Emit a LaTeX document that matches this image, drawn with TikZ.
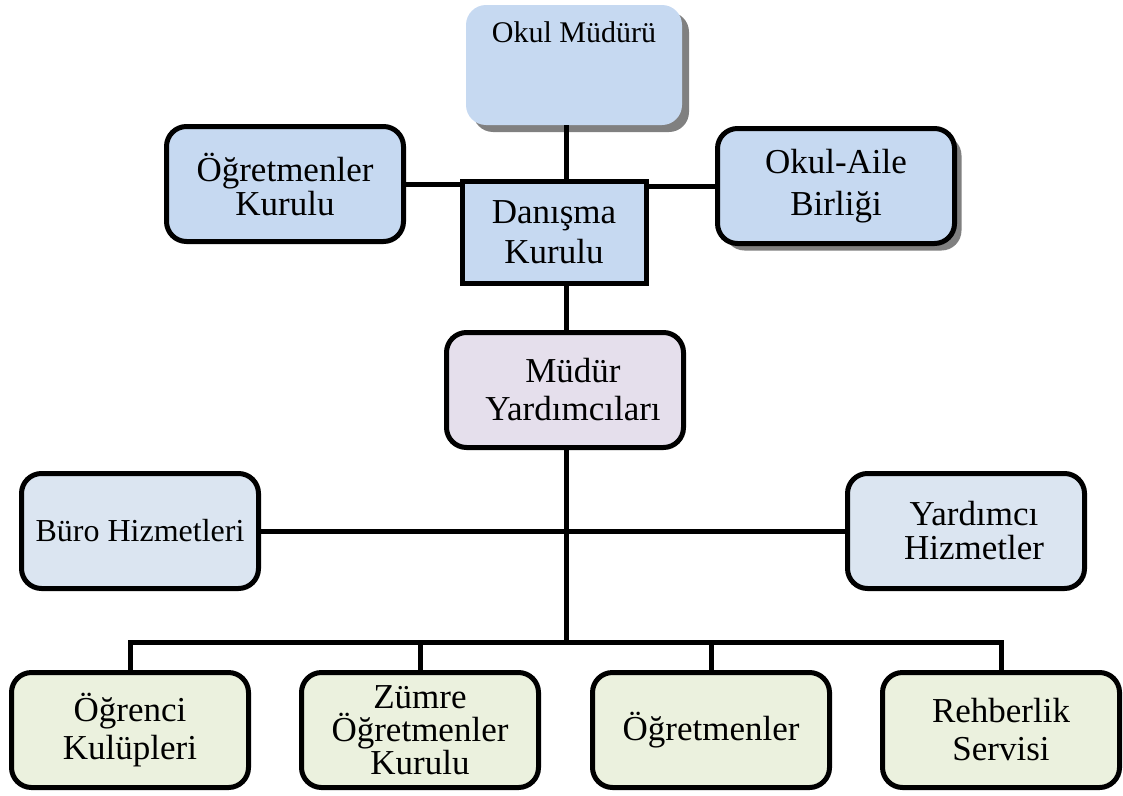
\documentclass[tikz,border=0pt]{standalone}
\usepackage{fontspec}
\setmainfont{Liberation Serif}
\usetikzlibrary{shadows}

\definecolor{boardblue}{HTML}{C6D9F1}
\definecolor{deputylilac}{HTML}{E5DFEC}
\definecolor{serviceblue}{HTML}{DBE5F1}
\definecolor{staffgreen}{HTML}{EBF1DE}

\tikzset{
  unit/.style={draw=black, line width=5pt, rounded corners=20pt,
    minimum width=237pt, minimum height=115pt, inner sep=4pt,
    align=center, font=\fontsize{35}{38}\selectfont},
  tight/.style={font=\fontsize{35}{34}\selectfont},
  link/.style={line width=5pt},
  shade/.style={drop shadow={shadow xshift=7pt, shadow yshift=-7pt,
    fill=black!50, opacity=1}}
}

\begin{document}
\begin{tikzpicture}[x=1pt,y=-1pt]
  \useasboundingbox (0,0) rectangle (1123,795);

  % top of the chart
  \node[fill=boardblue, rounded corners=20pt, shade, minimum width=216pt,
    minimum height=120pt, inner sep=8pt, text height=29pt, text depth=75pt,
    font=\fontsize{30}{34}\selectfont] (mudur) at (574,65) {Okul Müdürü};

  % boards
  \node[unit, tight, fill=boardblue] (ogrkurul) at (285,184) {Öğretmenler\\Kurulu};
  \node[unit, fill=boardblue, rounded corners=0pt, minimum width=184pt,
    minimum height=102pt, font=\fontsize{35}{40}\selectfont] (danisma) at (554,232) {Danışma\\Kurulu};
  \node[unit, fill=boardblue, shade, font=\fontsize{35}{42}\selectfont] (veli) at (836,186) {Okul-Aile\\Birliği};

  % deputies and services
  \node[unit, fill=deputylilac] (yrd) at (565,390) {\hspace*{16pt}Müdür\\\hspace*{16pt}Yardımcıları};
  \node[unit, fill=serviceblue, font=\fontsize{32}{36}\selectfont] (buro) at (140,531) {Büro Hizmetleri};
  \node[unit, tight, fill=serviceblue] (yardimci) at (966,531) {\hspace*{16pt}Yardımcı\\\hspace*{16pt}Hizmetler};

  % staff row
  \node[unit, fill=staffgreen] (ogrenci) at (130,730) {Öğrenci\\Kulüpleri};
  \node[unit, fill=staffgreen, font=\fontsize{35}{33}\selectfont] (zumre) at (420,730) {Zümre\\Öğretmenler\\Kurulu};
  \node[unit, fill=staffgreen] (ogretmen) at (711,730) {Öğretmenler};
  \node[unit, fill=staffgreen] (rehber) at (1001,730) {Rehberlik\\Servisi};

  \coordinate (spine) at (566,0);
  \coordinate (bus) at (0,642);

  % connectors
  \draw[link] (mudur.south -| spine) -- (danisma.north -| spine);
  \draw[link] (ogrkurul.east) -- (ogrkurul.east -| danisma.west);
  \draw[link] (danisma.east |- veli.west) -- (veli.west);
  \draw[link] (danisma.south -| spine) -- (yrd.north -| spine);
  \draw[link] (yrd.south -| spine) -- (bus -| spine);
  \draw[link] (buro.east) -- (yardimci.west);
  \draw[link] (ogrenci.north) -- (ogrenci.north |- bus) -- (rehber.north |- bus) -- (rehber.north);
  \foreach \n in {zumre, ogretmen}
    \draw[link] (\n.north |- bus) -- (\n.north);
\end{tikzpicture}
\end{document}
